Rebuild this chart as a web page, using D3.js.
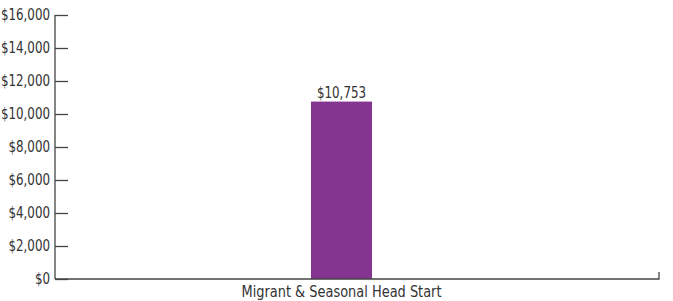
<!DOCTYPE html>
<html><head><meta charset="utf-8">
<script src="https://cdn.jsdelivr.net/npm/d3@7"></script>
<style>body{margin:0;background:#fff}svg{display:block}text{font-family:"DejaVu Sans Condensed","Liberation Sans Narrow",sans-serif;fill:#333}</style>
</head><body><svg width="673" height="301"></svg>
<script>
const categories = ["Migrant & Seasonal Head Start"];
const values = [10753];
const yTicks = [0, 2000, 4000, 6000, 8000, 10000, 12000, 14000, 16000];

const svg = d3.select("svg");
const fmt = d => "$" + d3.format(",")(d);
const y = d3.scaleLinear().domain([0, 16000]).range([279, 15]);
const x = d3.scaleBand().domain(categories).range([55, 628]).padding(0.8076);

// horizontally squeezed text placed at (px, py)
function sq(sel, px, py, sx) {
  return sel.attr("transform", (d, i) => `translate(${px(d, i)},${py(d, i)}) scale(${sx},1)`);
}

// bars
svg.selectAll("rect.bar").data(values).join("rect")
  .attr("x", (d, i) => x(categories[i]))
  .attr("width", x.bandwidth())
  .attr("y", d => y(d))
  .attr("height", d => y(0) - y(d))
  .attr("fill", "#84358f");

sq(svg.selectAll("text.val").data(values).join("text"),
   (d, i) => x(categories[i]) + x.bandwidth() / 2, d => y(d) - 4, 0.88)
  .attr("text-anchor", "middle")
  .attr("font-size", 15)
  .text(fmt);

// y axis
const yAxis = svg.append("g").attr("transform", "translate(55,0)")
  .call(d3.axisRight(y).tickValues(yTicks).tickSize(13).tickFormat(""));
yAxis.select(".domain").remove();
yAxis.selectAll("line").attr("stroke", "#444").attr("stroke-width", 1.3);
svg.append("line").attr("x1", 55).attr("x2", 55).attr("y1", y(16000)).attr("y2", y(0))
  .attr("stroke", "#444").attr("stroke-width", 1.3);
sq(svg.selectAll("text.ytl").data(yTicks).join("text"), () => 50, d => y(d), 0.88)
  .attr("dy", "0.35em")
  .attr("text-anchor", "end").attr("font-size", 15).text(fmt);

// x axis
svg.append("path").attr("d", `M55,${y(0)}H659V${y(0) - 7}`)
  .attr("fill", "none").attr("stroke", "#444").attr("stroke-width", 1.3);
sq(svg.selectAll("text.xl").data(categories).join("text"),
   d => x(d) + x.bandwidth() / 2, () => 297, 0.96)
  .attr("text-anchor", "middle").attr("font-size", 15).text(d => d);
</script></body></html>
